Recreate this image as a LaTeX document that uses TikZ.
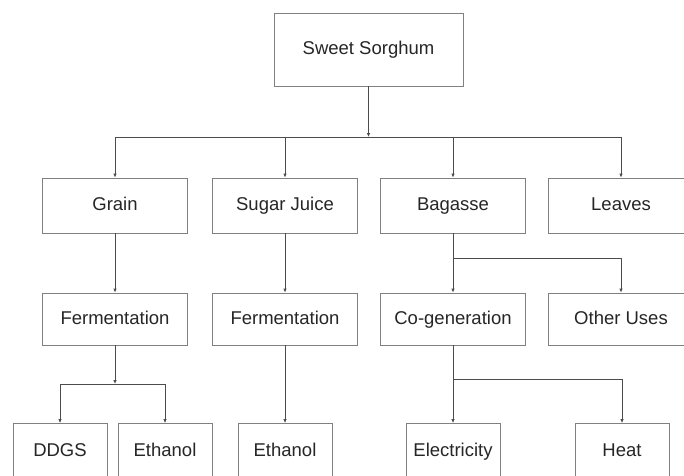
\documentclass[tikz,border=0pt]{standalone}
\usepackage{fontspec}
\setmainfont{Liberation Sans}
\usetikzlibrary{arrows.meta}

\begin{document}
\begin{tikzpicture}[x=1pt, y=-1pt, font={\fontsize{18.5}{20}\selectfont},
every node/.style={draw=black!50, line width=0.8pt, inner sep=0pt, text=black!85,
minimum height=55pt, minimum width=145pt, fill=white, text height=13pt, text depth=3pt},
small/.style={minimum width=94pt},
link/.style={draw=black!70, line width=0.8pt},
]

\clip (0,0) rectangle (684,475);

\path
(368.5,49.5) node[minimum width=189pt, minimum height=73pt] (sweet) {Sweet Sorghum}
(115,205.5) node (grain) {Grain}
(285,205.5) node (juice) {Sugar Juice}
(453,205.5) node (bagasse) {Bagasse}
(621,205.5) node (leaves) {Leaves}
(115,319) node[minimum height=52pt] (ferm1) {Fermentation}
(285,319) node[minimum height=52pt] (ferm2) {Fermentation}
(453,319) node[minimum height=52pt] (cogen) {Co-generation}
(621,319) node[minimum height=52pt] (other) {Other Uses}
(60,451) node[small] (ddgs) {DDGS}
(165,451) node[small] (eth1) {Ethanol}
(285,451) node[small] (eth2) {Ethanol}
(453,451) node[small] (elec) {Electricity}
(622,451) node[small] (heat) {Heat}
;

% junctions
\coordinate (j0) at (368.5,137);
\coordinate (j1) at (115,384);
\coordinate (j2) at (453,258);
\coordinate (j3) at (453,379);

% bars
\begin{scope}[link]
\draw (grain |- j0) -- (leaves |- j0);
\draw (ddgs |- j1) -- (eth1 |- j1);
\draw (bagasse) -- (j2) -- (other |- j2);
\draw (cogen) -- (j3) -- (heat |- j3);
\end{scope}

% arrows
\begin{scope}[link, -{Latex[length=4pt, width=3.5pt]}]
\draw (sweet) -- (j0);
\draw (grain |- j0) -- (grain);
\draw (juice |- j0) -- (juice);
\draw (bagasse |- j0) -- (bagasse);
\draw (leaves |- j0) -- (leaves);
\draw (grain) -- (ferm1);
\draw (juice) -- (ferm2);
\draw (j2) -- (cogen);
\draw (other |- j2) -- (other);
\draw (ferm1) -- (j1);
\draw (ddgs |- j1) -- (ddgs);
\draw (eth1 |- j1) -- (eth1);
\draw (ferm2) -- (eth2);
\draw (j3) -- (elec);
\draw (heat |- j3) -- (heat);
\end{scope}

\end{tikzpicture}
\end{document}
